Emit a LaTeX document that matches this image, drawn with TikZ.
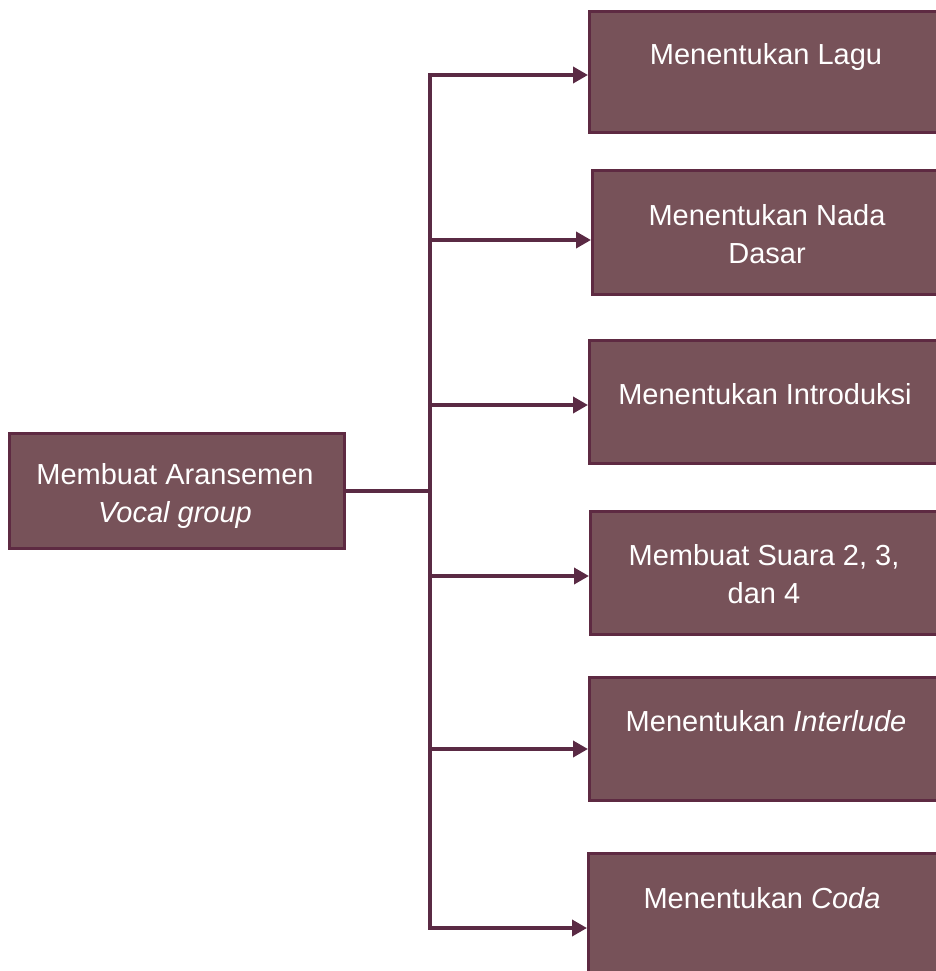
\documentclass[tikz,border=0pt]{standalone}
\usepackage{fontspec}
\setmainfont{Liberation Sans}
\usetikzlibrary{arrows.meta}
\definecolor{boxfill}{HTML}{775259}
\definecolor{boxline}{HTML}{5E2A42}
\definecolor{conn}{HTML}{5A2A44}
\tikzset{
  box/.style={draw=boxline, fill=boxfill, line width=2.6pt, anchor=north west, inner sep=0pt},
  lbl/.style={text=white, font=\fontsize{29}{37.5}\selectfont, align=center, anchor=base, inner sep=0pt},
  link/.style={draw=conn, line width=3.6pt},
  arr/.style={link, -{Triangle[length=15pt,width=16pt]}},
}
\begin{document}
\begin{tikzpicture}[x=1pt,y=-1pt]
\useasboundingbox (0,0) rectangle (936,971);
% boxes
\node[box, minimum width=335pt, minimum height=115pt] (m) at (8,432) {};
\node[box, minimum width=357pt, minimum height=121pt] (b1) at (588,10) {};
\node[box, minimum width=354pt, minimum height=124pt] (b2) at (591,169) {};
\node[box, minimum width=357pt, minimum height=123pt] (b3) at (588,339) {};
\node[box, minimum width=356pt, minimum height=123pt] (b4) at (589,510) {};
\node[box, minimum width=357pt, minimum height=123pt] (b5) at (588,676) {};
\node[box, minimum width=357pt, minimum height=130pt] (b6) at (587,852) {};
% labels (multi-line labels anchored at the baseline of their last line)
\node[lbl] (tm) at (175,522) {Membuat Aransemen\\\itshape Vocal group};
\node[lbl] (t1) at (766,65) {Menentukan Lagu};
\node[lbl] (t2) at (767,263) {Menentukan Nada\\Dasar};
\node[lbl] (t3) at (765,404) {Menentukan Introduksi};
\node[lbl] (t4) at (764,603) {Membuat Suara 2, 3,\\dan 4};
\node[lbl] (t5) at (766,731) {Menentukan \textit{Interlude}};
\node[lbl] (t6) at (762,908) {Menentukan \textit{Coda}};
% trunk
\coordinate (j) at (430,491);
\coordinate (c1) at (430,75);
\coordinate (c2) at (430,240);
\coordinate (c3) at (430,405);
\coordinate (c4) at (430,576);
\coordinate (c5) at (430,749);
\coordinate (c6) at (430,928);
\draw[link] (m.east |- j) -- (j);
\draw[link, line cap=rect] (c1) -- (c6);
\draw[arr] (c1) -- (c1 -| b1.west);
\draw[arr] (c2) -- (c2 -| b2.west);
\draw[arr] (c3) -- (c3 -| b3.west);
\draw[arr] (c4) -- (c4 -| b4.west);
\draw[arr] (c5) -- (c5 -| b5.west);
\draw[arr] (c6) -- (c6 -| b6.west);
\end{tikzpicture}
\end{document}
